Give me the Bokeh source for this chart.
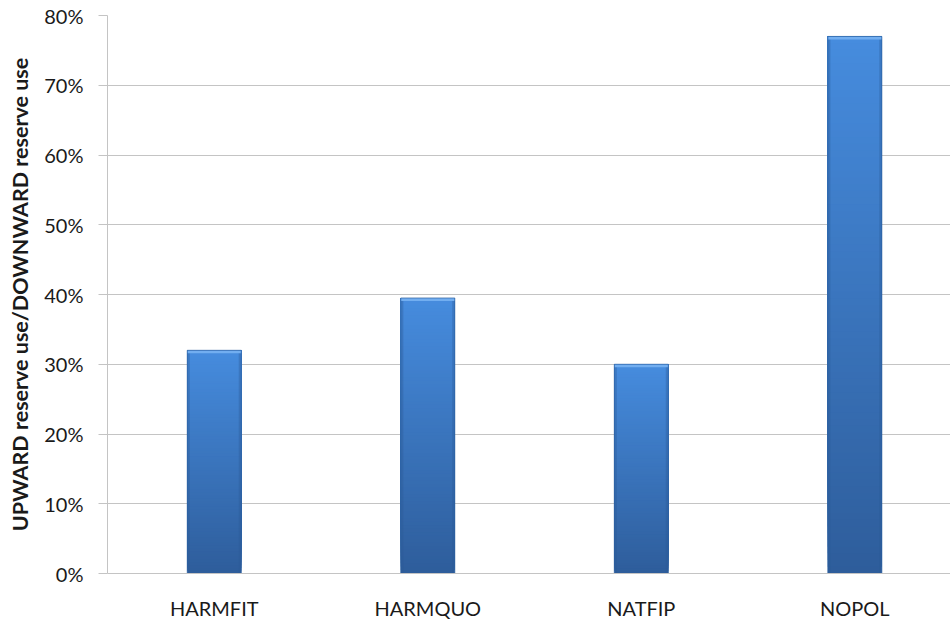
import numpy as np
from bokeh.plotting import figure
from bokeh.models import Range1d, FixedTicker, NumeralTickFormatter
from bokeh.embed import file_html
from bokeh.resources import INLINE

# Chart data
categories = ["HARMFIT", "HARMQUO", "NATFIP", "NOPOL"]
reserve_ratio = [0.32, 0.395, 0.30, 0.77]
y_ticks = [0.0, 0.1, 0.2, 0.3, 0.4, 0.5, 0.6, 0.7, 0.8]

FONT = "Lato"
TEXT = "#1a1a1a"
GRID = "#c4c4c4"
TOP_COLOR = np.array([0x46, 0x8c, 0xde])
BOTTOM_COLOR = np.array([0x2e, 0x5d, 0x9b])

centers = [i + 0.5 for i in range(len(categories))]
bar_w = 0.253

p = figure(
    width=950, height=622,
    x_range=Range1d(0, 3.948), y_range=Range1d(0, 0.8),
    output_backend="svg", toolbar_location=None,
    min_border_left=107, min_border_right=0,
    min_border_top=15, min_border_bottom=44,
    background_fill_color="white", border_fill_color="white",
)
p.outline_line_color = None

# vertical gradient for each bar: stacked bands, each running from its
# start height up to the bar top, so later (lighter) bands cover earlier ones
n_bands = 80
lefts, rights, bottoms, tops, colors = [], [], [], [], []
for k in range(n_bands):
    t = (k + 0.5) / n_bands
    rgb = BOTTOM_COLOR + (TOP_COLOR - BOTTOM_COLOR) * t
    col = "#%02x%02x%02x" % tuple(int(round(x)) for x in rgb)
    for c, v in zip(centers, reserve_ratio):
        lefts.append(c - bar_w / 2)
        rights.append(c + bar_w / 2)
        bottoms.append(v * k / n_bands)
        tops.append(v)
        colors.append(col)
p.quad(left=lefts, right=rights, bottom=bottoms, top=tops,
       fill_color=colors, line_color=None)

# bevelled edges: darker sides and a light strip along the top
px = 0.8 / 563
left_edge = [c - bar_w / 2 for c in centers]
right_edge = [c + bar_w / 2 for c in centers]
p.quad(left=left_edge, right=[l + 0.012 for l in left_edge],
       bottom=[0] * len(centers), top=reserve_ratio,
       fill_color="#2a5896", fill_alpha=0.35, line_color=None)
p.quad(left=[r - 0.012 for r in right_edge], right=right_edge,
       bottom=[0] * len(centers), top=reserve_ratio,
       fill_color="#2a5896", fill_alpha=0.35, line_color=None)
p.quad(left=left_edge, right=right_edge,
       bottom=[v - 3 * px for v in reserve_ratio], top=reserve_ratio,
       fill_color="#72aef0", line_color=None)
p.quad(left=left_edge, right=right_edge,
       bottom=[0] * len(centers), top=reserve_ratio,
       fill_color=None, line_color="#2b5f9f", line_alpha=0.7, line_width=1)

# axes
p.xaxis.ticker = FixedTicker(ticks=centers)
p.xaxis.major_label_overrides = {c: name for c, name in zip(centers, categories)}
p.xaxis.major_tick_line_color = None
p.xaxis.minor_tick_line_color = None
p.xaxis.axis_line_color = GRID
p.xaxis.major_label_standoff = 16
p.xaxis.major_label_text_font = FONT
p.xaxis.major_label_text_font_size = "20px"
p.xaxis.major_label_text_color = TEXT

p.yaxis.ticker = FixedTicker(ticks=y_ticks)
p.yaxis.formatter = NumeralTickFormatter(format="0%")
p.yaxis.major_tick_in = 0
p.yaxis.major_tick_out = 9
p.yaxis.major_tick_line_color = GRID
p.yaxis.minor_tick_line_color = None
p.yaxis.axis_line_color = GRID
p.yaxis.major_label_standoff = 15
p.yaxis.major_label_text_font = FONT
p.yaxis.major_label_text_font_size = "20px"
p.yaxis.major_label_text_color = TEXT
p.yaxis.axis_label = "UPWARD reserve use/DOWNWARD reserve use"
p.yaxis.axis_label_text_font = FONT
p.yaxis.axis_label_text_font_style = "bold"
p.yaxis.axis_label_text_font_size = "21.5px"
p.yaxis.axis_label_text_color = TEXT
p.yaxis.axis_label_standoff = 8

p.xgrid.grid_line_color = None
p.ygrid.grid_line_color = GRID
p.ygrid.grid_line_width = 1

open("out.html", "w").write(file_html(p, INLINE))
